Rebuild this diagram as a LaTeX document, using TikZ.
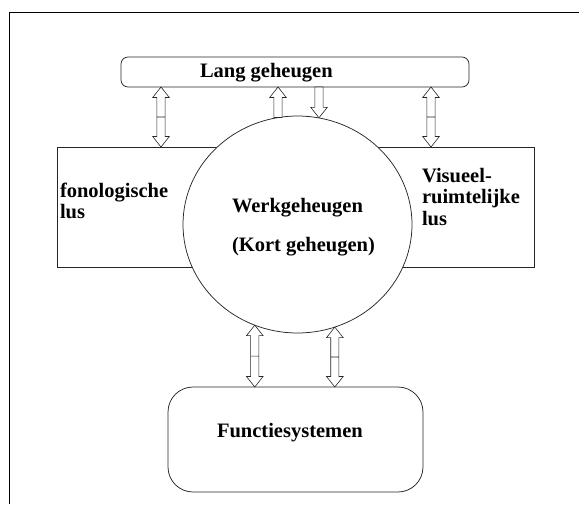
\documentclass[tikz,border=0pt]{standalone}
\usepackage{fontspec}
\setmainfont{Liberation Serif}
\usetikzlibrary{shapes.geometric,calc}
\tikzset{
  shp/.style={draw=black!85, line width=0.75pt, inner sep=0pt, outer sep=0pt},
  txt/.style={font=\fontsize{20.5}{21.5}\selectfont\bfseries, inner sep=0pt, outer sep=0pt, anchor=base west},
  blk/.style={draw=black!85, line width=0.6pt, fill=white, line join=miter}
}
\newcommand\dblarrow[2]{%
  \draw[blk] let \p1=#1, \p2=#2 in
    (\x1,\y1) -- (\x1+8.3pt,\y1-10.5pt) -- (\x1+4.1pt,\y1-10.5pt) -- (\x1+4.1pt,\y2+10.5pt)
    -- (\x1+8.3pt,\y2+10.5pt) -- (\x1,\y2) -- (\x1-8.3pt,\y2+10.5pt) -- (\x1-4.1pt,\y2+10.5pt)
    -- (\x1-4.1pt,\y1-10.5pt) -- (\x1-8.3pt,\y1-10.5pt) -- cycle
    (\x1-4.1pt,{(\y1+\y2)/2}) -- (\x1+4.1pt,{(\y1+\y2)/2});}
\newcommand\uparr[2]{%
  \draw[blk] let \p1=#1, \p2=#2 in
    (\x1,\y1) -- (\x1+8.3pt,\y1-10.5pt) -- (\x1+4.1pt,\y1-10.5pt) -- (\x1+4.1pt,\y2)
    -- (\x1-4.1pt,\y2) -- (\x1-4.1pt,\y1-10.5pt) -- (\x1-8.3pt,\y1-10.5pt) -- cycle;}
\newcommand\downarr[2]{%
  \draw[blk] let \p1=#1, \p2=#2 in
    (\x1,\y2) -- (\x1+8.3pt,\y2+10.5pt) -- (\x1+4.1pt,\y2+10.5pt) -- (\x1+4.1pt,\y1)
    -- (\x1-4.1pt,\y1) -- (\x1-4.1pt,\y2+10.5pt) -- (\x1-8.3pt,\y2+10.5pt) -- cycle;}
\begin{document}
\begin{tikzpicture}[x=1pt,y=-1pt]
\useasboundingbox (0,0) rectangle (579,504);
% open outer frame
\draw[line width=0.9pt] (9,504) -- (9,12) -- (579,12);
% boxes
\node[shp, rounded corners=7pt, minimum width=348pt, minimum height=30pt] (lang) at (295,72) {};
\node[shp, minimum width=243pt, minimum height=120pt] (lrect) at (178.5,207) {};
\node[shp, minimum width=234pt, minimum height=120pt] (rrect) at (417,207) {};
\node[shp, ellipse, fill=white, minimum width=229pt, minimum height=217pt] (werk) at (297.5,224.5) {};
\node[shp, rounded corners=25pt, minimum width=255pt, minimum height=105pt] (func) at (295.5,439.5) {};
% texts
\node[txt] (tlang) at (200,77) {Lang geheugen};
\node[txt] (tfon1) at (60,197) {fonologische};
\node[txt] (tfon2) at (60,218.5) {lus};
\node[txt] (tvis1) at (422,182) {Visueel-};
\node[txt] (tvis2) at (422,203.5) {ruimtelijke};
\node[txt] (tvis3) at (422,225) {lus};
\node[txt] (twerk) at (232,212) {Werkgeheugen};
\node[txt] (tkort) at (232,251) {(Kort geheugen)};
\node[txt] (tfunc) at (217,437) {Functiesystemen};
% connectors
\dblarrow{(lang.south -| 161,0)}{(lrect.north -| 161,0)}
\dblarrow{(lang.south -| 431,0)}{(rrect.north -| 431,0)}
\uparr{(lang.south -| 278,0)}{(werk.100.3)}
\downarr{(lang.south -| 319,0)}{(werk.79.4)}
\dblarrow{(werk.247.5)}{(func.north -| 256,0)}
\dblarrow{(werk.290.1)}{(func.north -| 335,0)}
\end{tikzpicture}
\end{document}
